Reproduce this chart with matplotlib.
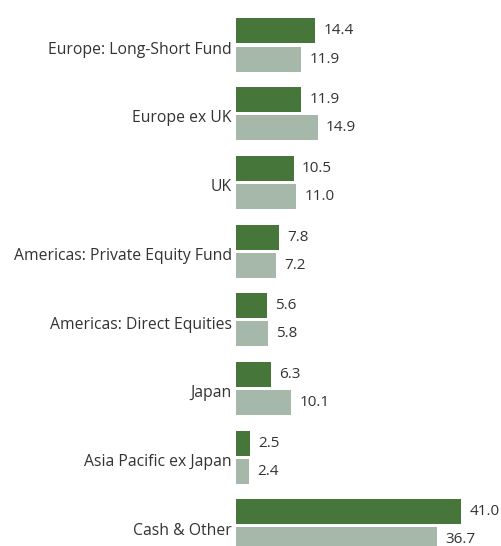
import matplotlib
matplotlib.use("Agg")
import matplotlib.pyplot as plt
import numpy as np

plt.rcParams['font.family'] = ['Open Sans', 'DejaVu Sans']

categories = ["Europe: Long-Short Fund", "Europe ex UK", "UK",
              "Americas: Private Equity Fund", "Americas: Direct Equities",
              "Japan", "Asia Pacific ex Japan", "Cash & Other"]
series_a = [14.4, 11.9, 10.5, 7.8, 5.6, 6.3, 2.5, 41.0]
series_b = [11.9, 14.9, 11.0, 7.2, 5.8, 10.1, 2.4, 36.7]

dark = "#47763A"
light = "#A6B8A9"
text_color = "#333333"

W, H = 501, 546
fig = plt.figure(figsize=(W / 100, H / 100), dpi=100)
ax = fig.add_axes([236 / W, 0, (W - 236) / W, 1])

y = np.arange(len(categories))
h = 0.364
gap = 0.044
off = h / 2 + gap / 2

bars_a = ax.barh(y - off, series_a, height=h, color=dark)
bars_b = ax.barh(y + off, series_b, height=h, color=light)

for bars, vals in ((bars_a, series_a), (bars_b, series_b)):
    for b, v in zip(bars, vals):
        ax.annotate(f"{v:.1f}", (b.get_width(), b.get_y() + b.get_height() / 2),
                    xytext=(6, 0), textcoords="offset points",
                    ha="left", va="center", fontsize=11, color=text_color)

ax.set_xlim(0, 48.3)
ax.set_ylim(7.293, -0.655)
ax.set_yticks(y + 0.04)
ax.set_yticklabels(categories, fontsize=11.3, color=text_color)
ax.tick_params(axis="y", length=0, pad=3)
ax.set_xticks([])
for s in ax.spines.values():
    s.set_visible(False)

fig.savefig("out.png", dpi=100)
